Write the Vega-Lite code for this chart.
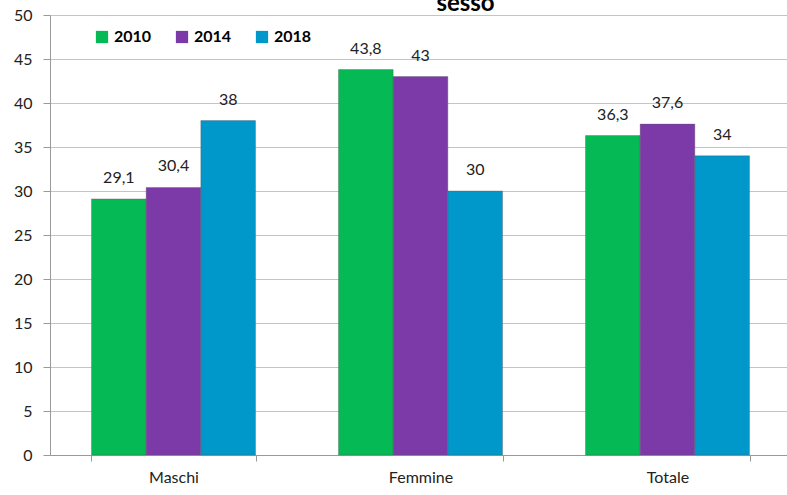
{
  "$schema": "https://vega.github.io/schema/vega-lite/v6.json",
  "autosize": "none",
  "width": 741,
  "height": 440,
  "padding": {"left": 50, "top": 15, "right": 0, "bottom": 40},
  "background": "white",
  "config": {
    "locale": {"number": {"decimal": ",", "thousands": ".", "grouping": [3], "currency": ["", " €"]}},
    "font": "Lato",
    "view": {"stroke": null}
  },
  "title": {
    "text": "sesso",
    "fontSize": 24,
    "font": "Lato",
    "fontWeight": "bold",
    "color": "black",
    "anchor": "middle",
    "frame": "group",
    "dx": 45,
    "offset": -9
  },
  "data": {
    "values": [
      {"gruppo": "Maschi", "anno": "2010", "valore": 29.1},
      {"gruppo": "Maschi", "anno": "2014", "valore": 30.4},
      {"gruppo": "Maschi", "anno": "2018", "valore": 38},
      {"gruppo": "Femmine", "anno": "2010", "valore": 43.8},
      {"gruppo": "Femmine", "anno": "2014", "valore": 43},
      {"gruppo": "Femmine", "anno": "2018", "valore": 30},
      {"gruppo": "Totale", "anno": "2010", "valore": 36.3},
      {"gruppo": "Totale", "anno": "2014", "valore": 37.6},
      {"gruppo": "Totale", "anno": "2018", "valore": 34}
    ]
  },
  "encoding": {
    "x": {
      "field": "gruppo",
      "type": "nominal",
      "sort": ["Maschi", "Femmine", "Totale"],
      "scale": {"paddingInner": 0.336, "paddingOuter": 0.168},
      "axis": {
        "title": null,
        "labelAngle": 0,
        "labelFontSize": 16,
        "labelColor": "#222222",
        "labelPadding": 8,
        "tickBand": "extent",
        "tickSize": 6,
        "tickColor": "#999999",
        "domainColor": "#999999",
        "labelFont": "Lato"
      }
    },
    "xOffset": {"field": "anno", "type": "nominal", "scale": {"paddingInner": 0, "paddingOuter": 0}},
    "y": {
      "field": "valore",
      "type": "quantitative",
      "scale": {"domain": [0, 50], "nice": false},
      "axis": {
        "title": null,
        "values": [0, 5, 10, 15, 20, 25, 30, 35, 40, 45, 50],
        "labelFontSize": 16,
        "labelColor": "#222222",
        "labelPadding": 11,
        "tickSize": 7,
        "tickColor": "#999999",
        "domainColor": "#999999",
        "gridColor": "#c4c4c4",
        "labelFont": "Lato"
      }
    }
  },
  "layer": [
    {
      "mark": {"type": "bar", "stroke": "#555555", "strokeOpacity": 0.35, "strokeWidth": 1},
      "encoding": {
        "color": {
          "field": "anno",
          "type": "nominal",
          "scale": {"domain": ["2010", "2014", "2018"], "range": ["#05BA54", "#7B3AA8", "#0097CB"]},
          "legend": {
            "title": null,
            "orient": "none",
            "legendX": 44,
            "legendY": 14,
            "direction": "horizontal",
            "symbolType": "square",
            "symbolSize": 150,
            "symbolStrokeWidth": 0,
            "labelFontSize": 16,
            "labelFontWeight": "bold",
            "labelColor": "black",
            "labelFont": "Lato",
            "columnPadding": 22,
            "labelOffset": 4
          }
        }
      }
    },
    {
      "mark": {"type": "text", "baseline": "middle", "dy": -21, "fontSize": 16, "color": "#222222", "font": "Lato"},
      "encoding": {
        "text": {"field": "valore", "type": "quantitative", "format": "~g"}
      }
    }
  ]
}
